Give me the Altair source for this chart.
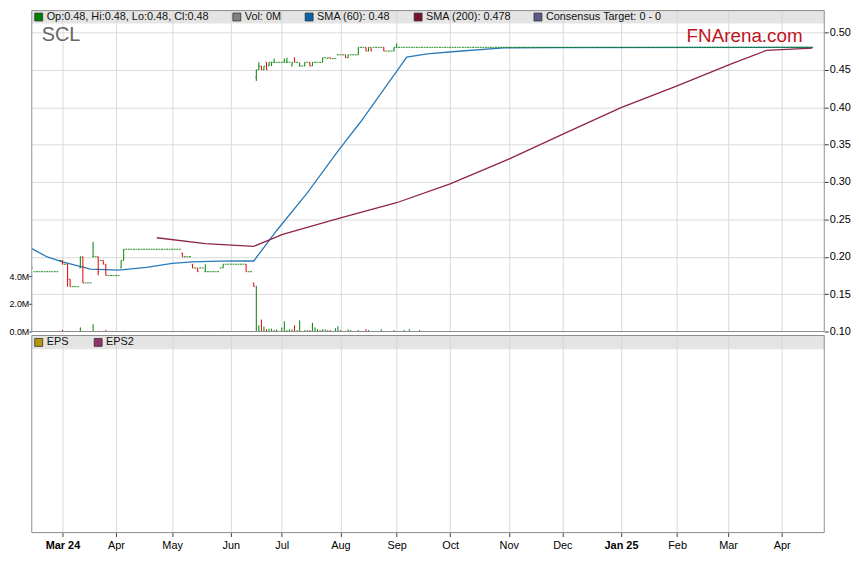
import altair as alt
import pandas as pd
import numpy as np

FONT = "Liberation Sans, Arial, sans-serif"
START = "2024-02-14"
END = "2025-04-17"

# ---- daily OHLC bars that differ from a flat "no trade" day (price in $, volume in millions)
bar_dates = ["2024-02-14", "2024-02-15", "2024-02-29", "2024-03-01", "2024-03-04", "2024-03-05",
             "2024-03-06", "2024-03-12", "2024-03-13", "2024-03-19", "2024-03-21", "2024-03-22",
             "2024-03-25", "2024-03-26", "2024-04-03", "2024-04-04", "2024-05-07", "2024-05-13",
             "2024-05-15", "2024-05-16", "2024-05-20", "2024-05-28", "2024-05-29", "2024-06-11",
             "2024-06-14", "2024-06-17", "2024-06-18", "2024-06-19", "2024-06-20", "2024-06-21",
             "2024-06-24", "2024-06-25", "2024-06-26", "2024-06-27", "2024-07-01", "2024-07-02",
             "2024-07-03", "2024-07-04", "2024-07-05", "2024-07-08", "2024-07-09", "2024-07-10",
             "2024-07-12", "2024-07-15", "2024-07-16", "2024-07-17", "2024-07-18", "2024-07-19",
             "2024-07-22", "2024-07-23", "2024-07-24", "2024-07-25", "2024-07-26", "2024-07-30",
             "2024-07-31", "2024-08-01", "2024-08-05", "2024-08-06", "2024-08-07", "2024-08-12",
             "2024-08-15", "2024-08-16", "2024-08-19", "2024-08-20", "2024-08-23", "2024-08-26",
             "2024-08-30", "2024-09-02", "2024-09-05", "2024-09-09", "2024-09-13"]
bar_open = [.185, .18, .195, .195, .19, .19, .17, .185, .20, .20, .20, .195,
            .195, .19, .185, .195, .205, .19, .185, .185, .18, .185, .185, .19,
            .165, .44, .45, .455, .45, .46, .455, .46, .46, .46, .46, .46,
            .46, .46, .455, .466, .46, .455, .455, .46, .46, .455, .46, .46,
            .46, .46, .466, .465, .466, .465, .47, .47, .47, .466, .47, .47,
            .48, .475, .48, .48, .48, .48, .475, .48, .48, .48, .48]
bar_high = [.185, .18, .195, .195, .19, .19, .17, .20, .20, .22, .20, .195,
            .195, .19, .195, .21, .205, .19, .185, .185, .19, .185, .19, .19,
            .165, .45, .46, .455, .455, .46, .46, .46, .465, .46, .46, .465,
            .466, .46, .46, .466, .46, .46, .46, .46, .46, .46, .46, .46,
            .46, .466, .466, .466, .466, .465, .47, .47, .47, .47, .47, .48,
            .48, .48, .48, .48, .48, .48, .48, .485, .48, .48, .48]
bar_low = [.185, .18, .195, .19, .19, .16, .16, .185, .165, .20, .175, .195,
           .19, .175, .185, .195, .20, .185, .18, .185, .18, .185, .185, .18,
           .16, .435, .45, .45, .45, .45, .455, .455, .46, .46, .46, .46,
           .46, .46, .455, .46, .46, .455, .455, .46, .455, .455, .46, .46,
           .46, .46, .466, .465, .465, .465, .47, .47, .466, .466, .47, .47,
           .475, .475, .475, .48, .48, .475, .475, .48, .48, .48, .48]
bar_close = [.185, .18, .195, .19, .19, .17, .16, .20, .165, .20, .18, .195,
             .19, .175, .195, .21, .20, .185, .18, .185, .18, .185, .19, .18,
             .16, .45, .455, .45, .455, .45, .46, .46, .46, .46, .46, .46,
             .46, .46, .46, .46, .46, .455, .46, .46, .455, .46, .46, .46,
             .46, .466, .466, .466, .465, .465, .47, .47, .466, .47, .47, .48,
             .475, .48, .475, .48, .48, .475, .48, .48, .48, .48, .48]
bar_vol = [0, 0, 0, .12, 0, .05, .05, .3, .05, .52, .05, 0,
           .05, .12, 0, .05, .05, 0, 0, 0, 0, 0, .05, .05,
           0, 3.3, .45, .86, .35, .16, .2, .2, .1, .16, .28, .73,
           .1, .16, .16, .45, .1, .8, .1, .1, .1, .62, .3, .16,
           .1, .16, .16, .1, .1, .24, .38, .1, 0, .16, .1, .1,
           .16, .1, 0, 0, .16, 0, .1, 0, .1, .16, .1]

# ---- moving averages
sma60_dates = ["2024-02-14", "2024-02-22", "2024-03-01", "2024-03-18", "2024-04-02", "2024-04-17",
               "2024-05-01", "2024-05-13", "2024-05-27", "2024-06-10", "2024-06-14", "2024-06-27",
               "2024-07-15", "2024-07-31", "2024-08-13", "2024-09-06", "2024-09-18", "2024-10-03",
               "2024-10-30", "2024-11-27", "2025-04-17"]
sma60_vals = [.2109, .1997, .1931, .1834, .1821, .1857, .1910, .1931, .1940, .1943, .1943, .2351,
              .2854, .3411, .3808, .4669, .4713, .4744, .4792, .4797, .4800]
sma200_dates = ["2024-04-23", "2024-05-20", "2024-06-14", "2024-06-27", "2024-07-01", "2024-07-31",
                "2024-09-02", "2024-10-01", "2024-11-01", "2024-12-02", "2025-01-02", "2025-02-03",
                "2025-03-04", "2025-03-24", "2025-04-17"]
sma200_vals = [.2254, .2175, .2139, .2265, .2295, .2510, .2722, .2974, .3305, .3636, .3993, .4285,
               .4576, .4758, .4788]

# ---- axes
month_dates = ["2024-03-01", "2024-04-01", "2024-05-01", "2024-06-03", "2024-07-01", "2024-08-01",
               "2024-09-02", "2024-10-01", "2024-11-01", "2024-12-02", "2025-01-02", "2025-02-03",
               "2025-03-03", "2025-04-01"]
month_labels = ["Mar 24", "Apr", "May", "Jun", "Jul", "Aug", "Sep", "Oct", "Nov", "Dec",
                "Jan 25", "Feb", "Mar", "Apr"]
price_ticks = [0.10, 0.15, 0.20, 0.25, 0.30, 0.35, 0.40, 0.45, 0.50]
vol_ticks = [0, 2, 4]

legend_labels = ["Op:0.48, Hi:0.48, Lo:0.48, Cl:0.48", "Vol: 0M", "SMA (60): 0.48",
                 "SMA (200): 0.478", "Consensus Target: 0 - 0"]
legend_colors = ["#008000", "#808080", "#0a62a8", "#7a1030", "#5c5c8a"]
eps_labels = ["EPS", "EPS2"]
eps_colors = ["#b8960b", "#93306a"]


def widx(dates):
    return np.busday_count(START, list(dates))


# daily table: weekdays with no listed bar repeat the last close (no trade)
lookup = {d: i for i, d in enumerate(bar_dates)}
rows = []
prev = None
for d in pd.bdate_range(START, END):
    ds = d.strftime("%Y-%m-%d")
    if ds in lookup:
        i = lookup[ds]
        o, h, l, c, v = bar_open[i], bar_high[i], bar_low[i], bar_close[i], bar_vol[i]
    else:
        o = h = l = c = prev
        v = 0.0
    prev = c
    rows.append(dict(date=ds, open=o, high=h, low=l, close=c, vol=v))
df = pd.DataFrame(rows)
df["idx"] = widx(df["date"])
df["dir"] = np.where(df["close"] < df["open"], "down", "up")
df["vdir"] = np.where(df["close"] > df["open"], "up", np.where(df["close"] < df["open"], "down", "flat"))
df["zero"] = 0.0
vdf = df[df["vol"] > 0].copy()

s60 = pd.DataFrame({"idx": widx(sma60_dates), "v": sma60_vals})
s200 = pd.DataFrame({"idx": widx(sma200_dates), "v": sma200_vals})

m_idx = [int(i) for i in widx(month_dates)]
label_expr = ""
for i, lab in zip(m_idx, month_labels):
    label_expr += f"datum.value == {i} ? '{lab}' : "
label_expr += "''"
bold_test = " || ".join(f"datum.value == {i}" for i, lab in zip(m_idx, month_labels) if " " in lab)

W, H = 800, 527
TOP_H = 324      # bottom of price panel (pixels)
LOW_TOP = 328    # top of EPS panel
X_DOMAIN = [-0.04, 310.7]
P_DOMAIN = [-0.16887, 0.52914]
V_DOMAIN = [-14.5, 23.142857]
TICK = 0.9

xaxis = alt.Axis(values=m_idx, labelExpr=label_expr, title=None, grid=True, gridColor="#dadada",
                 domain=False, tickSize=4, tickColor="#444", labelFont=FONT, labelFontSize=11,
                 labelColor="#000", labelPadding=3,
                 labelFontWeight={"condition": {"test": bold_test, "value": "bold"}, "value": "normal"})
xscale = alt.Scale(domain=X_DOMAIN, nice=False, zero=False)
yscale = alt.Scale(domain=P_DOMAIN, nice=False, zero=False)
yaxis = alt.Axis(orient="right", values=price_ticks, format=".2f", title=None, grid=True,
                 gridColor="#dadada", domain=False, tickSize=4, tickColor="#333", labelFont=FONT,
                 labelFontSize=11, labelColor="#000", labelPadding=1)


def X(f="idx"):
    return alt.X(f"{f}:Q", scale=xscale, axis=xaxis)


def Y(f):
    return alt.Y(f"{f}:Q", scale=yscale, axis=yaxis)


pcolor = alt.Color("dir:N", scale=alt.Scale(domain=["up", "down"], range=["#008000", "#dd0000"]), legend=None)

line60 = alt.Chart(s60).mark_line(color="#2a7ab8", strokeWidth=1.3, clip=True).encode(x=X(), y=Y("v"))
line200 = alt.Chart(s200).mark_line(color="#8e2447", strokeWidth=1.3, clip=True).encode(x=X(), y=Y("v"))
hl = alt.Chart(df).mark_rule(strokeWidth=1, clip=True).encode(x=X(), y=Y("low"), y2="high:Q", color=pcolor)
op = alt.Chart(df).mark_rule(strokeWidth=1, clip=True, xOffset=-TICK, x2Offset=0).encode(
    x=X(), x2="idx:Q", y=Y("open"), color=pcolor)
cl = alt.Chart(df).mark_rule(strokeWidth=1, clip=True, xOffset=0, x2Offset=TICK).encode(
    x=X(), x2="idx:Q", y=Y("close"), color=pcolor)
price = alt.layer(line60, line200, hl, op, cl)

vol = alt.Chart(vdf).mark_rule(strokeWidth=1, clip=True).encode(
    x=X(),
    y=alt.Y("vol:Q", scale=alt.Scale(domain=V_DOMAIN, nice=False, zero=False),
            axis=alt.Axis(orient="left", values=vol_ticks, labelExpr="format(datum.value, '.1f') + 'M'",
                          title=None, grid=False, domain=False, tickSize=3, tickColor="#333",
                          labelFont=FONT, labelFontSize=9, labelColor="#000", labelPadding=0)),
    y2="zero:Q",
    color=alt.Color("vdir:N", scale=alt.Scale(domain=["up", "down", "flat"],
                                              range=["#8fe88f", "#f49a9a", "#7f7f7f"]), legend=None),
)

one = pd.DataFrame({"k": [0]})


def rect(x0, x1, y0, y1, **kw):
    return alt.Chart(one).mark_rect(**kw).encode(
        x=alt.value(x0), x2=alt.value(x1), y=alt.value(y0), y2=alt.value(y1))


def text(s, x, y, **kw):
    return alt.Chart(one).mark_text(font=FONT, **kw).encode(x=alt.value(x), y=alt.value(y), text=alt.value(s))


bands = [
    rect(0, W, 0, 13, fill="#d6d6d6", opacity=0.65),
    rect(0, W, TOP_H, LOW_TOP, fill="white"),
    rect(0, W, LOW_TOP, LOW_TOP + 14, fill="#d6d6d6", opacity=0.65),
]
frames = [
    rect(0, W, 0, TOP_H, fill="white", fillOpacity=0, stroke="#8c8c8c", strokeWidth=1),
    rect(0, W, LOW_TOP, H, fill="white", fillOpacity=0, stroke="#8c8c8c", strokeWidth=1),
]

leg_x = [3, 203, 276, 386, 507]
texts = []
for lab, col, lx in zip(legend_labels, legend_colors, leg_x):
    texts.append(rect(lx, lx + 8, 2.5, 10.5, fill=col, stroke="#333", strokeWidth=0.8))
    texts.append(text(lab, lx + 12, 7, align="left", baseline="middle", fontSize=11, color="#111"))
for lab, col, lx in zip(eps_labels, eps_colors, [3, 63]):
    texts.append(rect(lx, lx + 8, LOW_TOP + 3, LOW_TOP + 11, fill=col, stroke="#333", strokeWidth=0.8))
    texts.append(text(lab, lx + 12, LOW_TOP + 7, align="left", baseline="middle", fontSize=11, color="#111"))
texts.append(text("SCL", 10, 31, align="left", baseline="alphabetic", fontSize=20, color="#666666"))
texts.append(text("FNArena.com", 661, 32, align="left", baseline="alphabetic", fontSize=19, color="#c0141c"))

chart = alt.layer(*bands, price, vol, *texts, *frames).resolve_scale(y="independent").properties(
    width=W, height=H,
    autosize=alt.AutoSizeParams(type="none"),
    padding={"left": 24, "top": 0, "right": 27, "bottom": 20},
).configure_view(stroke=None)

chart.save("out.html", embed_options={"renderer": "svg", "actions": False})
